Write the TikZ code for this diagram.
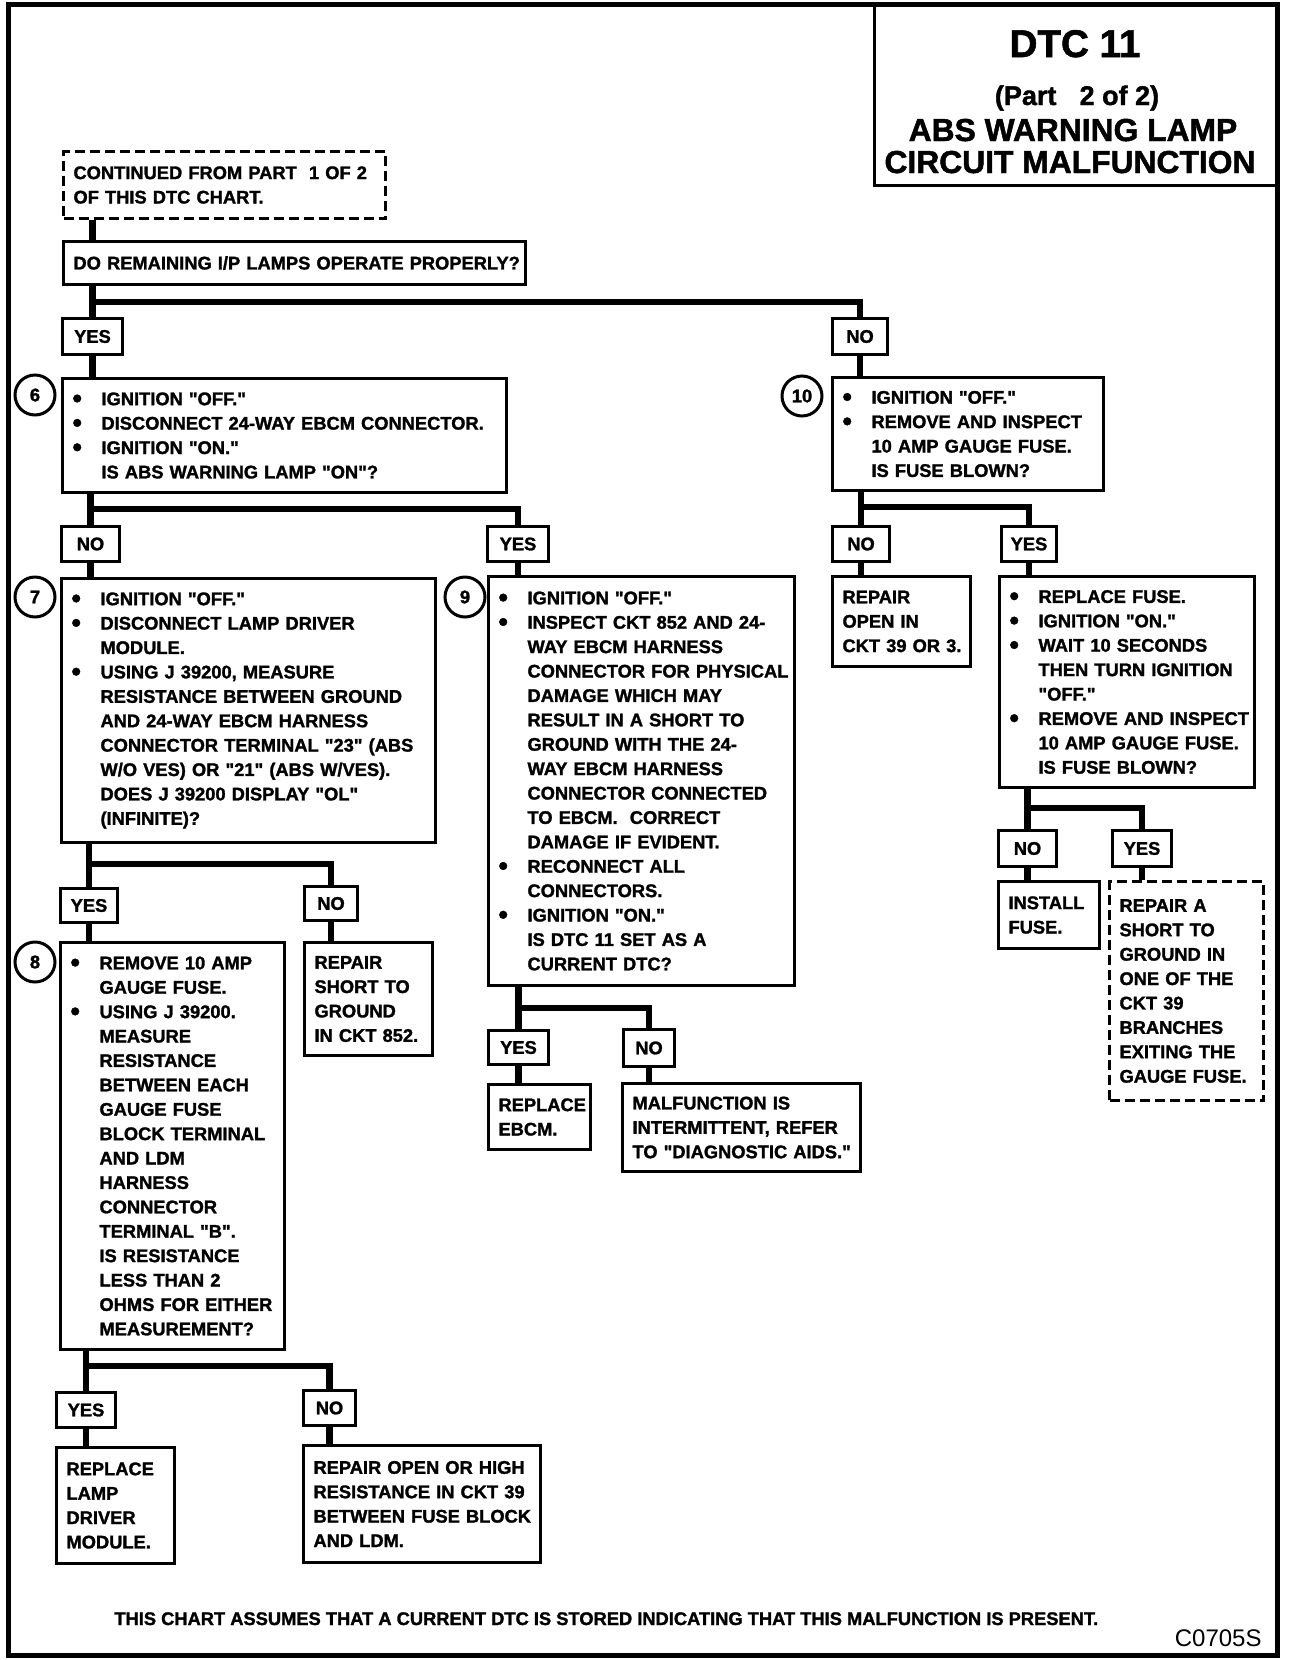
\documentclass[tikz,border=0pt]{standalone}
\usepackage{fontspec}
\setmainfont{Liberation Sans}[Ligatures=TeXOff, BoldFeatures={FakeBold=1.5}]
\setlength{\parindent}{0pt}
\newcommand\boxfont{\fontsize{9.15}{12.2}\selectfont\bfseries}
\newcommand\bdot{\raisebox{-1.1pt}{\fontsize{13.5}{12}\selectfont\textbullet}}
\newcommand\bl[1]{\mbox{\makebox[14.5pt][l]{\bdot}#1}}
\newcommand\cl[1]{\mbox{\hspace*{14.5pt}#1}}
\newcommand\pl[1]{\mbox{#1}}
\begin{document}
\begin{tikzpicture}[x=0.5pt,y=-0.5pt,
  box/.style={draw, line width=1.5pt, inner xsep=5pt, inner ysep=0pt, anchor=north west, align=left, font=\boxfont},
  dashbox/.style={box, dash pattern=on 5pt off 2.5pt},
  lbl/.style={draw, line width=1.5pt, inner sep=0pt, anchor=north west, font=\boxfont},
  conn/.style={line width=3.2pt},
  num/.style={draw, circle, line width=1.5pt, minimum size=20pt, inner sep=0pt, fill=white, font=\boxfont},
  ttl/.style={anchor=base, inner sep=0pt}]
\useasboundingbox (0,0) rectangle (1312,1660);
% frame and title
\node[draw, line width=2.5pt, anchor=north west, minimum width=634.5pt, minimum height=825.5pt, inner sep=0pt] (frame) at (6,2) {};
\node[draw, line width=1.5pt, anchor=north west, minimum width=201pt, minimum height=91pt, inner sep=0pt] (title) at (873,2) {};
\node[ttl, font=\fontsize{19.3}{22}\selectfont\bfseries] (t1) at (1075,57) {DTC 11};
\node[ttl, font=\fontsize{13.5}{16}\selectfont\bfseries] (t2) at (1077,105) {(Part\hspace{11.6pt}2 of 2)};
\node[ttl, font=\fontsize{15.9}{18}\selectfont\bfseries] (t3) at (1073,141) {ABS WARNING LAMP};
\node[ttl, font=\fontsize{15.9}{18}\selectfont\bfseries] (t4) at (1070,173) {CIRCUIT MALFUNCTION};
% top
\node[dashbox, minimum width=161pt, minimum height=33.5pt, text width=151pt] (cont) at (62,150)
  {\pl{CONTINUED FROM PART\ \ 1 OF 2}\\ \pl{OF THIS DTC CHART.}};
\node[box, minimum width=231pt, minimum height=21.5pt, text width=221pt] (q) at (62,240)
  {\pl{DO REMAINING I/P LAMPS OPERATE PROPERLY?}};
\node[lbl, minimum width=30pt, minimum height=18pt] (yes1) at (61,317) {YES};
\node[lbl, minimum width=27.5pt, minimum height=18pt] (no1) at (831,317) {NO};
% step 6 and 10
\node[box, minimum width=222pt, minimum height=57pt, text width=212pt] (b6) at (61,377)
  {\bl{IGNITION "OFF."}\\ \bl{DISCONNECT 24-WAY EBCM CONNECTOR.}\\ \bl{IGNITION "ON."}\\ \cl{IS ABS WARNING LAMP "ON"?}};
\node[num] (n6) at (35,395) {6};
\node[box, minimum width=135.5pt, minimum height=56.5pt, text width=125.5pt] (b10) at (831,376)
  {\bl{IGNITION "OFF."}\\ \bl{REMOVE AND INSPECT}\\ \cl{10 AMP GAUGE FUSE.}\\ \cl{IS FUSE BLOWN?}};
\node[num] (n10) at (802,396) {10};
\node[lbl, minimum width=29pt, minimum height=17.5pt] (no2) at (60,525) {NO};
\node[lbl, minimum width=30.5pt, minimum height=17.5pt] (yes2) at (486,525) {YES};
\node[lbl, minimum width=28.5pt, minimum height=17.5pt] (no3) at (831,525) {NO};
\node[lbl, minimum width=27.5pt, minimum height=17.5pt] (yes3) at (1000,525) {YES};
% step 7, 9, right column
\node[box, minimum width=187pt, minimum height=132pt, text width=177pt] (b7) at (60,577)
  {\bl{IGNITION "OFF."}\\ \bl{DISCONNECT LAMP DRIVER}\\ \cl{MODULE.}\\ \bl{USING J 39200, MEASURE}\\
   \cl{RESISTANCE BETWEEN GROUND}\\ \cl{AND 24-WAY EBCM HARNESS}\\ \cl{CONNECTOR TERMINAL "23" (ABS}\\
   \cl{W/O VES) OR "21" (ABS W/VES).}\\ \cl{DOES J 39200 DISPLAY "OL"}\\ \cl{(INFINITE)?}};
\node[num] (n7) at (35,597) {7};
\node[box, minimum width=153pt, minimum height=204.5pt, text width=143pt] (b9) at (487,575)
  {\bl{IGNITION "OFF."}\\ \bl{INSPECT CKT 852 AND 24-}\\ \cl{WAY EBCM HARNESS}\\ \cl{CONNECTOR FOR PHYSICAL}\\
   \cl{DAMAGE WHICH MAY}\\ \cl{RESULT IN A SHORT TO}\\ \cl{GROUND WITH THE 24-}\\ \cl{WAY EBCM HARNESS}\\
   \cl{CONNECTOR CONNECTED}\\ \cl{TO EBCM.\ \ CORRECT}\\ \cl{DAMAGE IF EVIDENT.}\\ \bl{RECONNECT ALL}\\
   \cl{CONNECTORS.}\\ \bl{IGNITION "ON."}\\ \cl{IS DTC 11 SET AS A}\\ \cl{CURRENT DTC?}};
\node[num] (n9) at (465,597) {9};
\node[box, minimum width=69pt, minimum height=45pt, text width=59pt] (bOpen) at (831,575)
  {\pl{REPAIR}\\ \pl{OPEN IN}\\ \pl{CKT 39 OR 3.}};
\node[box, minimum width=127.5pt, minimum height=105.5pt, text width=117.5pt] (bFuse) at (998,575)
  {\bl{REPLACE FUSE.}\\ \bl{IGNITION "ON."}\\ \bl{WAIT 10 SECONDS}\\ \cl{THEN TURN IGNITION}\\ \cl{"OFF."}\\
   \bl{REMOVE AND INSPECT}\\ \cl{10 AMP GAUGE FUSE.}\\ \cl{IS FUSE BLOWN?}};
\node[lbl, minimum width=29pt, minimum height=18pt] (no6) at (997,829) {NO};
\node[lbl, minimum width=29.5pt, minimum height=18pt] (yes6) at (1111,829) {YES};
\node[box, minimum width=50.5pt, minimum height=33.5pt, text width=40.5pt] (bInstall) at (997,880)
  {\pl{INSTALL}\\ \pl{FUSE.}};
\node[dashbox, minimum width=77pt, minimum height=109.5pt, text width=67pt] (bRepA) at (1108,880)
  {\pl{REPAIR A}\\ \pl{SHORT TO}\\ \pl{GROUND IN}\\ \pl{ONE OF THE}\\ \pl{CKT 39}\\ \pl{BRANCHES}\\ \pl{EXITING THE}\\ \pl{GAUGE FUSE.}};
% under 7
\node[lbl, minimum width=28.5pt, minimum height=17pt] (yes4) at (59,887) {YES};
\node[lbl, minimum width=26.5pt, minimum height=17pt] (no4) at (303,885) {NO};
\node[box, minimum width=112pt, minimum height=203.5pt, text width=102pt] (b8) at (59,941)
  {\bl{REMOVE 10 AMP}\\ \cl{GAUGE FUSE.}\\ \bl{USING J 39200.}\\ \cl{MEASURE}\\ \cl{RESISTANCE}\\ \cl{BETWEEN EACH}\\
   \cl{GAUGE FUSE}\\ \cl{BLOCK TERMINAL}\\ \cl{AND LDM}\\ \cl{HARNESS}\\ \cl{CONNECTOR}\\ \cl{TERMINAL "B".}\\
   \cl{IS RESISTANCE}\\ \cl{LESS THAN 2}\\ \cl{OHMS FOR EITHER}\\ \cl{MEASUREMENT?}};
\node[num] (n8) at (35,962) {8};
\node[box, minimum width=64pt, minimum height=56.5pt, text width=54pt] (bShort) at (303,941)
  {\pl{REPAIR}\\ \pl{SHORT TO}\\ \pl{GROUND}\\ \pl{IN CKT 852.}};
% under 9
\node[lbl, minimum width=30pt, minimum height=17pt] (yes5) at (487,1029) {YES};
\node[lbl, minimum width=25.5pt, minimum height=18.5pt] (no5) at (622,1028) {NO};
\node[box, minimum width=51pt, minimum height=32.5pt, text width=41pt] (bEBCM) at (487,1083)
  {\pl{REPLACE}\\ \pl{EBCM.}};
\node[box, minimum width=119pt, minimum height=44pt, text width=109pt] (bMalf) at (621,1082)
  {\pl{MALFUNCTION IS}\\ \pl{INTERMITTENT, REFER}\\ \pl{TO "DIAGNOSTIC AIDS."}};
% under 8
\node[lbl, minimum width=29.5pt, minimum height=17.5pt] (yes7) at (55,1391) {YES};
\node[lbl, minimum width=26pt, minimum height=17.5pt] (no7) at (302,1389) {NO};
\node[box, minimum width=59pt, minimum height=58pt, text width=49pt] (bLamp) at (55,1446)
  {\pl{REPLACE}\\ \pl{LAMP}\\ \pl{DRIVER}\\ \pl{MODULE.}};
\node[box, minimum width=118.5pt, minimum height=58.5pt, text width=108.5pt] (bHigh) at (302,1444)
  {\pl{REPAIR OPEN OR HIGH}\\ \pl{RESISTANCE IN CKT 39}\\ \pl{BETWEEN FUSE BLOCK}\\ \pl{AND LDM.}};
% footer
\node[anchor=base west, inner sep=0pt, font=\boxfont] (foot) at (114,1625)
  {THIS CHART ASSUMES THAT A CURRENT DTC IS STORED INDICATING THAT THIS MALFUNCTION IS PRESENT.};
\node[anchor=base east, inner sep=0pt, font=\fontsize{12}{14}\selectfont] (code) at (1262,1646) {C0705S};
% junction levels
\coordinate (j1) at (0,302);
\coordinate (j2) at (0,509);
\coordinate (j3) at (0,507);
\coordinate (j4) at (0,864);
\coordinate (j5) at (0,1008);
\coordinate (j6) at (0,808);
\coordinate (j7) at (0,1366);
% connectors
\draw[conn] (cont.south -| yes1) -- (q.north -| yes1);
\draw[conn] (q.south -| yes1) -- (yes1.north);
\draw[conn] (yes1 |- j1) -| (no1.north);
\draw[conn] (yes1.south) -- (b6.north -| yes1);
\draw[conn] (no1.south) -- (b10.north -| no1);
\draw[conn] (b6.south -| no2) -- (no2.north);
\draw[conn] (no2 |- j2) -| (yes2.north);
\draw[conn] (no2.south) -- (b7.north -| no2);
\draw[conn] (yes2.south) -- (b9.north -| yes2);
\draw[conn] (b10.south -| no3) -- (no3.north);
\draw[conn] (no3 |- j3) -| (yes3.north);
\draw[conn] (no3.south) -- (bOpen.north -| no3);
\draw[conn] (yes3.south) -- (bFuse.north -| yes3);
\draw[conn] (b7.south -| yes4) -- (yes4.north);
\draw[conn] (yes4 |- j4) -| (no4.north);
\draw[conn] (yes4.south) -- (b8.north -| yes4);
\draw[conn] (no4.south) -- (bShort.north -| no4);
\draw[conn] (b9.south -| yes5) -- (yes5.north);
\draw[conn] (yes5 |- j5) -| (no5.north);
\draw[conn] (yes5.south) -- (bEBCM.north -| yes5);
\draw[conn] (no5.south) -- (bMalf.north -| no5);
\draw[conn] (bFuse.south -| no6) -- (no6.north);
\draw[conn] (no6 |- j6) -| (yes6.north);
\draw[conn] (no6.south) -- (bInstall.north -| no6);
\draw[conn] (yes6.south) -- (bRepA.north -| yes6);
\draw[conn] (b8.south -| yes7) -- (yes7.north);
\draw[conn] (yes7 |- j7) -| (no7.north);
\draw[conn] (yes7.south) -- (bLamp.north -| yes7);
\draw[conn] (no7.south) -- (bHigh.north -| no7);
\end{tikzpicture}
\end{document}
